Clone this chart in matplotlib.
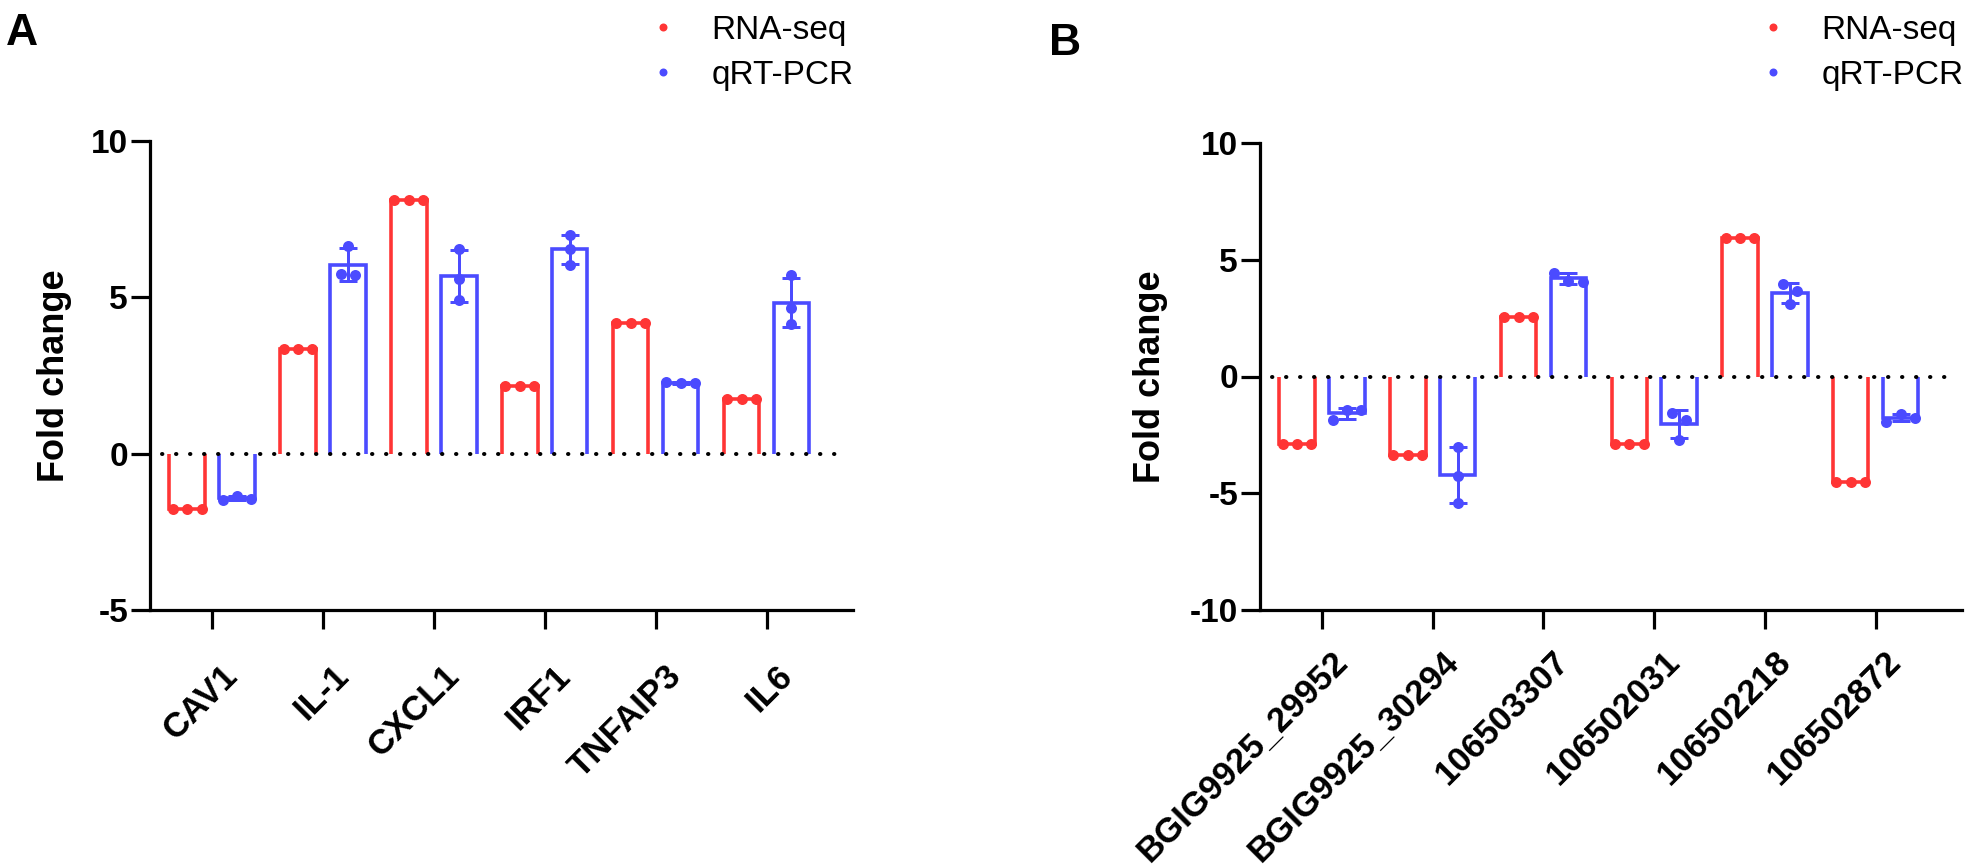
import numpy as np
import matplotlib
matplotlib.use('Agg')
import matplotlib.pyplot as plt
from matplotlib.lines import Line2D
import matplotlib.transforms as mtransforms

plt.rcParams['font.family'] = ['Liberation Sans', 'DejaVu Sans']

# ---------------- data ----------------
series_names = ['RNA-seq', 'qRT-PCR']
series_colors = ['#FF3535', '#4B4BFF']

genes_A = ['CAV1', 'IL-1', 'CXCL1', 'IRF1', 'TNFAIP3', 'IL6']
rnaseq_A = [[-1.78, -1.78, -1.78],
            [3.35, 3.35, 3.35],
            [8.10, 8.10, 8.10],
            [2.17, 2.17, 2.17],
            [4.18, 4.18, 4.18],
            [1.75, 1.75, 1.75]]
qpcr_A = [[-1.48, -1.36, -1.46],
          [6.65, 5.75, 5.72],
          [6.55, 5.60, 4.90],
          [7.00, 6.55, 6.05],
          [2.28, 2.25, 2.25],
          [5.70, 4.65, 4.15]]

genes_B = ['BGIG9925_29952', 'BGIG9925_30294', '106503307',
           '106502031', '106502218', '106502872']
rnaseq_B = [[-2.88, -2.88, -2.88],
            [-3.35, -3.35, -3.35],
            [2.55, 2.55, 2.55],
            [-2.88, -2.88, -2.88],
            [5.93, 5.93, 5.93],
            [-4.52, -4.52, -4.52]]
qpcr_B = [[-1.85, -1.45, -1.42],
          [-3.00, -4.25, -5.40],
          [4.45, 4.10, 4.05],
          [-1.55, -1.88, -2.70],
          [3.95, 3.65, 3.10],
          [-1.93, -1.62, -1.76]]

yticks_A = [-5, 0, 5, 10]
yticks_B = [-10, -5, 0, 5, 10]

# ---------------- layout ----------------
W, H = 1966, 866
DPI = 100
fig = plt.figure(figsize=(W / DPI, H / DPI), dpi=DPI)


def pt(p):
    return p * 72.0 / DPI


def rect(x0, y0, x1, y1):
    return [x0 / W, 1 - y1 / H, (x1 - x0) / W, (y1 - y0) / H]


axA = fig.add_axes(rect(150, 141, 853, 610))
axB = fig.add_axes(rect(1260, 143, 1962, 610))

XLIM = (-0.56, 5.78)
BAR_W = 0.32
OFFS = [-0.225, 0.225]
DOT_PX = 11
DOT_DX = 0.13


def dot_offsets(vals, thr):
    vals = np.asarray(vals, dtype=float)
    order = np.argsort(-vals, kind='stable')
    groups = []
    cur = [order[0]]
    for a, b in zip(order[:-1], order[1:]):
        if abs(vals[a] - vals[b]) < thr:
            cur.append(b)
        else:
            groups.append(cur)
            cur = [b]
    groups.append(cur)
    offs = np.zeros(len(vals))
    for g in groups:
        g = sorted(g)
        n = len(g)
        for k, idx in enumerate(g):
            offs[idx] = (k - (n - 1) / 2.0) * DOT_DX
    return offs


def draw_panel(ax, genes, series, ylim, yticks, label_pad_px):
    ax.set_xlim(*XLIM)
    ax.set_ylim(*ylim)
    fig.canvas.draw()
    px_per_unit = ax.get_window_extent().height / (ylim[1] - ylim[0])
    thr = DOT_PX / px_per_unit

    x = np.arange(len(genes))
    for s, (vals, color) in enumerate(zip(series, series_colors)):
        for i, reps in enumerate(vals):
            reps = np.asarray(reps, dtype=float)
            m = reps.mean()
            sd = reps.std(ddof=1)
            xc = x[i] + OFFS[s]
            ax.bar(xc, m, width=BAR_W, color='white', edgecolor='none', zorder=2)
            ax.plot([xc - BAR_W / 2, xc - BAR_W / 2, xc + BAR_W / 2, xc + BAR_W / 2],
                    [0, m, m, 0], color=color, lw=pt(3.6), solid_joinstyle='miter',
                    solid_capstyle='butt', zorder=3)
            if sd > 1e-3:
                ax.errorbar(xc, m, yerr=sd, fmt='none', ecolor=color,
                            elinewidth=pt(3), capsize=pt(9), capthick=pt(3), zorder=4)
            offs = dot_offsets(reps, thr)
            ax.plot(xc + offs, reps, 'o', color=color, ms=pt(DOT_PX), mec='none',
                    zorder=5, clip_on=False)

    ax.plot([XLIM[0] + 0.11, XLIM[1] - 0.12], [0, 0], color='black', lw=pt(4),
            ls=(0, (0.1, 3.4)), dash_capstyle='round', zorder=4.5)

    for sp in ['top', 'right']:
        ax.spines[sp].set_visible(False)
    for sp in ['left', 'bottom']:
        ax.spines[sp].set_linewidth(pt(3.2))
        ax.spines[sp].set_capstyle('projecting')

    ax.set_yticks(yticks)
    ax.set_yticklabels([str(t) for t in yticks], fontsize=24, fontweight='bold')
    ax.tick_params(axis='both', direction='out', length=pt(19), width=pt(3.2), pad=pt(3))
    ax.tick_params(axis='x', pad=pt(label_pad_px))
    ax.set_xticks(x)
    labels = ax.set_xticklabels(genes, rotation=45, ha='right', va='top',
                                rotation_mode='anchor', fontsize=25, fontweight='bold')
    shift = mtransforms.ScaledTranslation(9 / DPI, 0, fig.dpi_scale_trans)
    for lb in labels:
        lb.set_transform(lb.get_transform() + shift)

    ax.set_ylabel('Fold change', fontsize=26, fontweight='bold')


draw_panel(axA, genes_A, [rnaseq_A, qpcr_A], (-5, 10), yticks_A, 30)
draw_panel(axB, genes_B, [rnaseq_B, qpcr_B], (-10, 10), yticks_B, 16)

axA.yaxis.set_label_coords((72 - 150) / 703, 0.5)
axB.yaxis.set_label_coords((1168 - 1260) / 702, 0.5)

# panel letters
fig.text(6 / W, 1 - 45 / H, 'A', fontsize=32, fontweight='bold', va='baseline', ha='left')
fig.text(1049 / W, 1 - 55 / H, 'B', fontsize=32, fontweight='bold', va='baseline', ha='left')

# legends
handles = [Line2D([], [], marker='o', ls='none', color=c, ms=pt(8), mec='none')
           for c in series_colors]
for ax, xpx in [(axA, 648), (axB, 1758)]:
    ax.legend(handles, series_names, loc='upper left',
              bbox_to_anchor=(xpx / W, 1 - 15 / H), bbox_transform=fig.transFigure,
              frameon=False, fontsize=24, handlelength=0.9, handletextpad=1.0,
              labelspacing=0.42, borderpad=0, borderaxespad=0)

fig.savefig('out.png', dpi=DPI)
